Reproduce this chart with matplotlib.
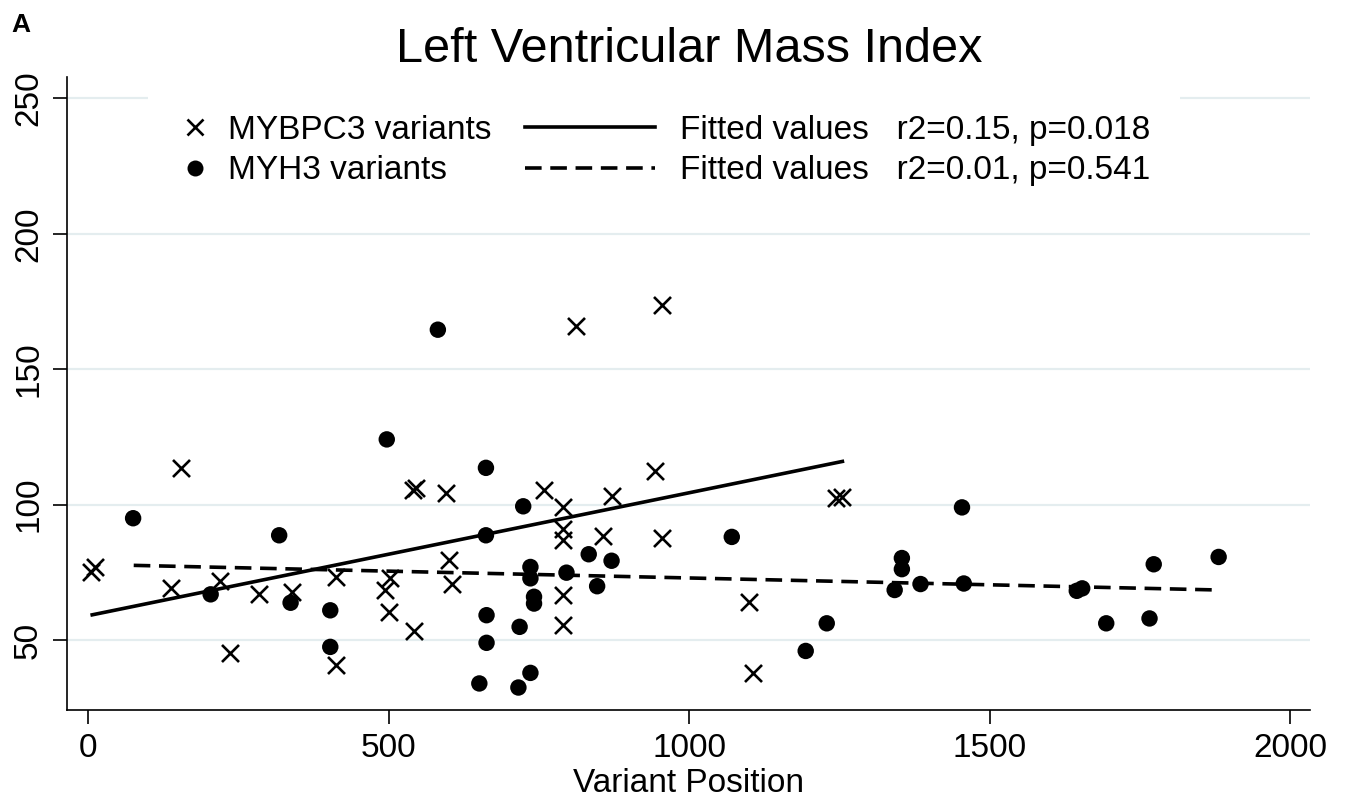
import matplotlib
matplotlib.use('Agg')
import matplotlib.pyplot as plt
import numpy as np
from matplotlib.lines import Line2D

plt.rcParams['font.family'] = ['Liberation Sans', 'DejaVu Sans']

# ---- data ----
mybpc3_pos = [5, 12, 138, 155, 219, 237, 284, 340, 413, 413, 494, 502, 500,
              542, 540, 546, 596, 601, 606, 758, 791, 791, 791, 791, 791,
              812, 857, 872, 943, 955, 955, 1100, 1106, 1245, 1255]
mybpc3_lvmi = [75, 77, 69.4, 113.4, 72, 45.3, 67.2, 67.8, 73.4, 40.8, 68.5, 72.8, 60.2,
               53.4, 105.5, 106, 104.4, 79.5, 70.7, 105.6, 99, 91.2, 86.9, 66.6, 55.5,
               165.9, 88.4, 103.1, 112.4, 173.9, 87.7, 64.1, 37.7, 102.5, 102.9]

myh3_pos = [75, 204, 318, 337, 403, 403, 497, 582, 662, 662, 663, 663, 651,
            724, 736, 736, 742, 742, 736, 716, 718, 796, 833, 847, 871, 1071,
            1194, 1229, 1342, 1354, 1354, 1385, 1454, 1457, 1645, 1654, 1694,
            1766, 1773, 1881]
myh3_lvmi = [95, 66.9, 88.7, 63.8, 61, 47.5, 124.1, 164.6, 113.6, 88.7, 59.2, 49, 34,
             99.4, 77, 72.8, 66, 63.5, 37.9, 32.5, 54.9, 74.9, 81.7, 69.9, 79.3, 88.1,
             46, 56.2, 68.5, 80.3, 76.2, 70.7, 99, 70.9, 68.2, 69.1, 56.2,
             58, 78, 80.7]

# fitted values (line end points)
mybpc3_fit_pos = [4, 1258]
mybpc3_fit_val = [59.2, 116.1]
myh3_fit_pos = [76, 1881]
myh3_fit_val = [77.6, 68.5]

series_labels = ["MYBPC3 variants", "MYH3 variants"]
fit_labels = ["Fitted values   r2=0.15, p=0.018", "Fitted values   r2=0.01, p=0.541"]
x_ticks = [0, 500, 1000, 1500, 2000]
y_ticks = [50, 100, 150, 200, 250]
title = "Left Ventricular Mass Index"
xlabel = "Variant Position"
panel = "A"

W, H = 1346, 801
fig = plt.figure(figsize=(W / 100, H / 100), dpi=100)
fig.patch.set_facecolor('white')
ax_l, ax_r, ax_t, ax_b = 67, 1310, 76.7, 710
ax = fig.add_axes([ax_l / W, 1 - ax_b / H, (ax_r - ax_l) / W, (ax_b - ax_t) / H])

ax.set_xlim(-35, 2033)
ax.set_ylim(24.2, 258)

# grid
for yv in y_ticks:
    ax.axhline(yv, color='#e4edef', lw=1.6, zorder=0)

# scatter
ax.scatter(mybpc3_pos, mybpc3_lvmi, marker='x', s=150, linewidths=1.9,
           color='black', zorder=3)
ax.scatter(myh3_pos, myh3_lvmi, marker='o', s=140, color='black',
           edgecolors='none', zorder=3)

# fitted lines
ax.plot(mybpc3_fit_pos, mybpc3_fit_val, color='black', lw=2.6, zorder=4,
        solid_capstyle='butt')
ax.plot(myh3_fit_pos, myh3_fit_val, color='black', lw=2.6, zorder=4,
        dashes=(4.6, 2.4))

# axes styling
for s in ['top', 'right']:
    ax.spines[s].set_visible(False)
for s in ['left', 'bottom']:
    ax.spines[s].set_linewidth(1.2)
ax.set_xticks(x_ticks)
ax.set_yticks(y_ticks)
ax.tick_params(axis='both', length=10, width=1.2, labelsize=24, pad=6.5)
ax.tick_params(axis='y', labelrotation=90)
for lab in ax.get_yticklabels():
    lab.set_va('center')
ax.set_xlabel(xlabel, fontsize=24, labelpad=3)

# legends
top_px = 85
h1 = [Line2D([], [], ls='none', marker='x', ms=12, mew=1.9, color='black'),
      Line2D([], [], ls='none', marker='o', ms=11.5, mec='none', color='black')]
leg1 = ax.legend(h1, series_labels, loc='upper left',
                 bbox_to_anchor=(148 / W, 1 - top_px / H), bbox_transform=fig.transFigure,
                 fontsize=24, handlelength=1.0, handletextpad=0.5,
                 labelspacing=0.28, borderpad=0.9, borderaxespad=0,
                 frameon=True, fancybox=False, framealpha=1,
                 facecolor='white', edgecolor='none')
leg1.set_zorder(6)
ax.add_artist(leg1)
h2 = [Line2D([], [], color='black', lw=2.6),
      Line2D([], [], color='black', lw=2.6, dashes=(4.6, 2.4))]
leg2 = ax.legend(h2, fit_labels, loc='upper left',
                 bbox_to_anchor=(495 / W, 1 - top_px / H), bbox_transform=fig.transFigure,
                 fontsize=24, handlelength=3.9, handletextpad=0.75,
                 labelspacing=0.28, borderpad=0.9, borderaxespad=0,
                 frameon=True, fancybox=False, framealpha=1,
                 facecolor='white', edgecolor='none')
leg2.set_zorder(5)

fig.text(689 / W, 1 - 62 / H, title, fontsize=35, ha='center', va='baseline')
fig.text(11 / W, 1 - 31.7 / H, panel, fontsize=19, fontweight='bold',
         ha='left', va='baseline')

fig.savefig('out.png', dpi=100)
